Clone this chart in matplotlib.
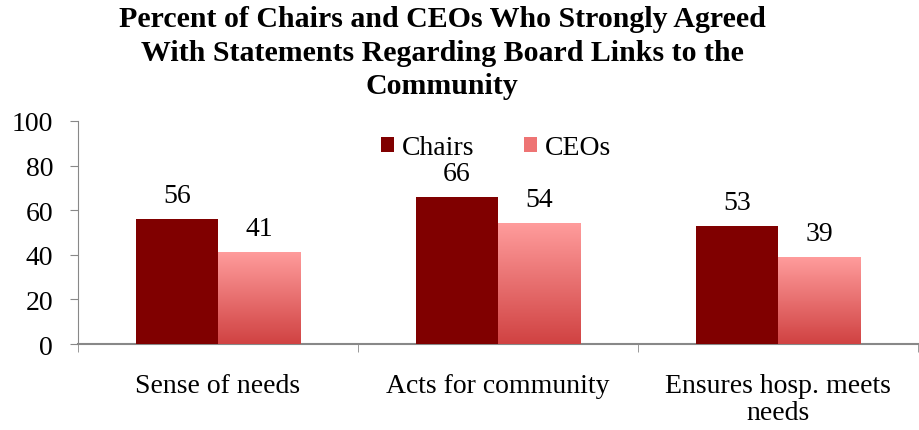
import matplotlib.pyplot as plt
import numpy as np
from matplotlib.colors import LinearSegmentedColormap
from matplotlib.patches import Patch

categories = ["Sense of needs", "Acts for community", "Ensures hosp. meets\nneeds"]
chairs = [56, 66, 53]
ceos = [41, 54, 39]

plt.rcParams['font.family'] = ['Liberation Serif', 'DejaVu Serif']

fig = plt.figure(figsize=(9.19, 4.31), dpi=100)
ax = fig.add_axes([0.0849, 0.1995, 0.914, 0.5175])

x = np.arange(len(categories))
w = 0.293
chair_col = "#800000"
grad = LinearSegmentedColormap.from_list("ceo", ["#D04242", "#FF9C9C"])

ax.bar(x - w / 2, chairs, w, color=chair_col, zorder=3)
bars = ax.bar(x + w / 2, ceos, w, color="none", zorder=3)
g = np.linspace(0, 1, 256).reshape(-1, 1)
for b in bars:
    x0, y0 = b.get_x(), b.get_y()
    ax.imshow(g, cmap=grad, origin="lower", aspect="auto",
              extent=(x0, x0 + b.get_width(), y0, y0 + b.get_height()), zorder=3)

for i in range(len(categories)):
    ax.annotate(str(chairs[i]), (x[i] - w / 2, chairs[i]), xytext=(0, 8), textcoords="offset points",
                ha="center", va="bottom", fontsize=20)
    ax.annotate(str(ceos[i]), (x[i] + w / 2, ceos[i]), xytext=(0, 8), textcoords="offset points",
                ha="center", va="bottom", fontsize=20)

ax.set_xlim(-0.5, len(categories) - 0.5)
ax.set_ylim(0, 100)
ax.set_yticks(range(0, 101, 20))
ax.set_xticks(x)
ax.set_xticklabels(categories, fontsize=20)
for lbl in ax.get_xticklabels():
    lbl.set_linespacing(1.1)
ax.set_xticks(np.arange(-0.5, len(categories), 1), minor=True)
ax.tick_params(axis="x", which="major", length=0, pad=21)
ax.tick_params(axis="x", which="minor", length=6, color="#888888")
ax.tick_params(axis="y", labelsize=20, length=6, color="#888888", pad=12)
for s in ["top", "right"]:
    ax.spines[s].set_visible(False)
ax.spines["left"].set_color("#888888")
ax.spines["bottom"].set_color("#888888")
ax.spines["bottom"].set_linewidth(1.5)

handles = [Patch(facecolor=chair_col), Patch(facecolor="#EE7474")]
ax.legend(handles, ["Chairs", "CEOs"], loc="center", bbox_to_anchor=(0.498, 0.88),
          ncol=2, frameon=False, fontsize=20, handlelength=0.45, handleheight=0.45,
          handletextpad=0.3, columnspacing=1.8, borderpad=0, borderaxespad=0)

fig.text(0.481, 0.985, "Percent of Chairs and CEOs Who Strongly Agreed\nWith Statements Regarding Board Links to the\nCommunity",
         ha="center", va="top", fontsize=21.5, fontweight="bold", linespacing=1.3)

fig.savefig("out.png", dpi=100)
